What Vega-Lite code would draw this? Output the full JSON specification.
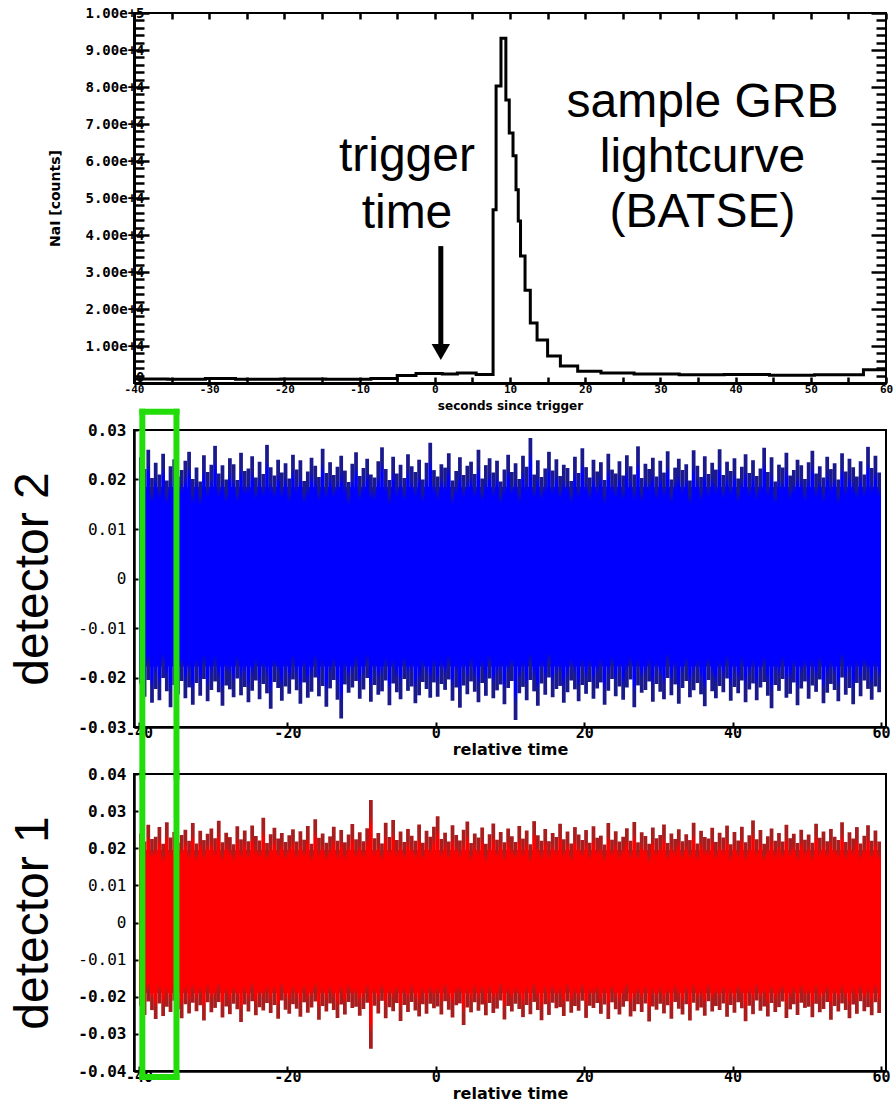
{
  "$schema": "https://vega.github.io/schema/vega-lite/v6.json",
  "padding": {"left": 8, "top": 5, "right": 0, "bottom": 0},
  "background": "white",
  "spacing": 47,
  "bounds": "flush",
  "config": {"view": {"stroke": "black", "strokeWidth": 2}, "font": "Liberation Sans"},
  "datasets": {
    "curve": [{"t":-40,"c":1100},{"t":-35.5,"c":1000},{"t":-30.5,"c":1200},{"t":-26.5,"c":1000},{"t":-20.5,"c":1100},{"t":-14.5,"c":1000},{"t":-8.5,"c":1200},{"t":-5,"c":2000},{"t":-2.5,"c":2600},{"t":1,"c":2400},{"t":3,"c":2700},{"t":5.5,"c":2300},{"t":7.75,"c":46800},{"t":8.15,"c":80300},{"t":8.8,"c":93200},{"t":9.45,"c":76500},{"t":9.9,"c":67600},{"t":10.4,"c":61400},{"t":10.8,"c":52200},{"t":11.1,"c":43800},{"t":11.4,"c":34300},{"t":12,"c":25100},{"t":12.7,"c":16200},{"t":13.6,"c":11600},{"t":15,"c":7300},{"t":16.7,"c":4600},{"t":19,"c":3200},{"t":22.1,"c":2700},{"t":26.5,"c":2400},{"t":32.5,"c":2200},{"t":38.5,"c":2300},{"t":44.5,"c":2100},{"t":50.5,"c":2200},{"t":57,"c":3600},{"t":60,"c":3600}],
    "notes": [{"t":-3.7,"c":61000,"txt":"trigger"},{"t":-3.7,"c":45700,"txt":"time"},{"t":35.6,"c":75700,"txt":"sample GRB"},{"t":35.6,"c":60800,"txt":"lightcurve"},{"t":35.6,"c":45900,"txt":"(BATSE)"}],
    "arrow": [{"t":0.8,"c1":37000,"c2":9500}],
    "head": [{"t":0.8,"c":8400}],
    "d2": [
{"t":-39.75,"h":0.0245,"l":-0.0212},{"t":-39.25,"h":0.0221,"l":-0.0239},{"t":-38.75,"h":0.026,"l":-0.0205},{"t":-38.25,"h":0.0203,"l":-0.0251},{"t":-37.75,"h":0.0234,"l":-0.0223},{"t":-37.25,"h":0.021,"l":-0.0246},{"t":-36.75,"h":0.0252,"l":-0.0201},{"t":-36.25,"h":0.0198,"l":-0.0228},{"t":-35.75,"h":0.0227,"l":-0.026},{"t":-35.25,"h":0.0241,"l":-0.0215},{"t":-34.75,"h":0.0206,"l":-0.0234},{"t":-34.25,"h":0.0219,"l":-0.0207},{"t":-33.75,"h":0.0238,"l":-0.0242},{"t":-33.25,"h":0.0256,"l":-0.022},{"t":-32.75,"h":0.0201,"l":-0.0255},{"t":-32.25,"h":0.0224,"l":-0.0211},{"t":-31.75,"h":0.0196,"l":-0.0237},{"t":-31.25,"h":0.0249,"l":-0.0203},{"t":-30.75,"h":0.0215,"l":-0.0248},{"t":-30.25,"h":0.023,"l":-0.0225},
{"t":-29.75,"h":0.0268,"l":-0.0208},{"t":-29.25,"h":0.0212,"l":-0.023},{"t":-28.75,"h":0.0229,"l":-0.0257},{"t":-28.25,"h":0.02,"l":-0.0216},{"t":-27.75,"h":0.0243,"l":-0.0224},{"t":-27.25,"h":0.0231,"l":-0.024},{"t":-26.75,"h":0.0199,"l":-0.0202},{"t":-26.25,"h":0.0254,"l":-0.0236},{"t":-25.75,"h":0.0217,"l":-0.0219},{"t":-25.25,"h":0.0222,"l":-0.025},{"t":-24.75,"h":0.0247,"l":-0.0227},{"t":-24.25,"h":0.0204,"l":-0.0206},{"t":-23.75,"h":0.0236,"l":-0.0244},{"t":-23.25,"h":0.0211,"l":-0.0213},{"t":-22.75,"h":0.027,"l":-0.0232},{"t":-22.25,"h":0.0225,"l":-0.0263},{"t":-21.75,"h":0.0208,"l":-0.0209},{"t":-21.25,"h":0.024,"l":-0.0221},{"t":-20.75,"h":0.0214,"l":-0.0247},{"t":-20.25,"h":0.0233,"l":-0.0218},
{"t":-19.75,"h":0.0202,"l":-0.0233},{"t":-19.25,"h":0.025,"l":-0.0204},{"t":-18.75,"h":0.022,"l":-0.0226},{"t":-18.25,"h":0.0239,"l":-0.0253},{"t":-17.75,"h":0.0197,"l":-0.021},{"t":-17.25,"h":0.0216,"l":-0.0241},{"t":-16.75,"h":0.0244,"l":-0.0229},{"t":-16.25,"h":0.0228,"l":-0.02},{"t":-15.75,"h":0.0205,"l":-0.0238},{"t":-15.25,"h":0.0262,"l":-0.0217},{"t":-14.75,"h":0.0213,"l":-0.0259},{"t":-14.25,"h":0.0235,"l":-0.0222},{"t":-13.75,"h":0.0209,"l":-0.0205},{"t":-13.25,"h":0.0226,"l":-0.0245},{"t":-12.75,"h":0.0248,"l":-0.0283},{"t":-12.25,"h":0.0218,"l":-0.0214},{"t":-11.75,"h":0.0195,"l":-0.0231},{"t":-11.25,"h":0.0232,"l":-0.022},{"t":-10.75,"h":0.0255,"l":-0.0207},{"t":-10.25,"h":0.0207,"l":-0.0243},
{"t":-9.75,"h":0.0223,"l":-0.0224},{"t":-9.25,"h":0.0242,"l":-0.0201},{"t":-8.75,"h":0.021,"l":-0.0249},{"t":-8.25,"h":0.0204,"l":-0.0215},{"t":-7.75,"h":0.0237,"l":-0.0235},{"t":-7.25,"h":0.0265,"l":-0.0228},{"t":-6.75,"h":0.0221,"l":-0.0206},{"t":-6.25,"h":0.0199,"l":-0.0256},{"t":-5.75,"h":0.0246,"l":-0.0212},{"t":-5.25,"h":0.0212,"l":-0.023},{"t":-4.75,"h":0.023,"l":-0.0244},{"t":-4.25,"h":0.0203,"l":-0.0203},{"t":-3.75,"h":0.0251,"l":-0.0227},{"t":-3.25,"h":0.0227,"l":-0.0218},{"t":-2.75,"h":0.0215,"l":-0.0252},{"t":-2.25,"h":0.024,"l":-0.0236},{"t":-1.75,"h":0.02,"l":-0.0209},{"t":-1.25,"h":0.0234,"l":-0.0223},{"t":-0.75,"h":0.0274,"l":-0.0241},{"t":-0.25,"h":0.0219,"l":-0.021},
{"t":0.25,"h":0.0206,"l":-0.0239},{"t":0.75,"h":0.0231,"l":-0.0213},{"t":1.25,"h":0.0224,"l":-0.0225},{"t":1.75,"h":0.0253,"l":-0.0204},{"t":2.25,"h":0.0198,"l":-0.0247},{"t":2.75,"h":0.0217,"l":-0.022},{"t":3.25,"h":0.0245,"l":-0.0261},{"t":3.75,"h":0.0209,"l":-0.0216},{"t":4.25,"h":0.0228,"l":-0.0234},{"t":4.75,"h":0.0236,"l":-0.0208},{"t":5.25,"h":0.0211,"l":-0.0229},{"t":5.75,"h":0.026,"l":-0.025},{"t":6.25,"h":0.0202,"l":-0.0211},{"t":6.75,"h":0.0229,"l":-0.0237},{"t":7.25,"h":0.0243,"l":-0.0202},{"t":7.75,"h":0.0214,"l":-0.0242},{"t":8.25,"h":0.0238,"l":-0.0226},{"t":8.75,"h":0.0196,"l":-0.0214},{"t":9.25,"h":0.022,"l":-0.0254},{"t":9.75,"h":0.025,"l":-0.0221},
{"t":10.25,"h":0.0215,"l":-0.0207},{"t":10.75,"h":0.0233,"l":-0.0286},{"t":11.25,"h":0.0201,"l":-0.0232},{"t":11.75,"h":0.0248,"l":-0.0219},{"t":12.25,"h":0.0226,"l":-0.0246},{"t":12.75,"h":0.0284,"l":-0.0205},{"t":13.25,"h":0.021,"l":-0.0228},{"t":13.75,"h":0.0239,"l":-0.0257},{"t":14.25,"h":0.0205,"l":-0.0212},{"t":14.75,"h":0.0222,"l":-0.0235},{"t":15.25,"h":0.0256,"l":-0.02},{"t":15.75,"h":0.0218,"l":-0.024},{"t":16.25,"h":0.0241,"l":-0.0223},{"t":16.75,"h":0.0207,"l":-0.0217},{"t":17.25,"h":0.023,"l":-0.0251},{"t":17.75,"h":0.0223,"l":-0.023},{"t":18.25,"h":0.0197,"l":-0.0206},{"t":18.75,"h":0.0246,"l":-0.0224},{"t":19.25,"h":0.0213,"l":-0.0248},{"t":19.75,"h":0.0263,"l":-0.0215},
{"t":20.25,"h":0.0225,"l":-0.0233},{"t":20.75,"h":0.0204,"l":-0.0209},{"t":21.25,"h":0.024,"l":-0.0243},{"t":21.75,"h":0.0216,"l":-0.0222},{"t":22.25,"h":0.0235,"l":-0.021},{"t":22.75,"h":0.0199,"l":-0.0255},{"t":23.25,"h":0.0252,"l":-0.0227},{"t":23.75,"h":0.022,"l":-0.0203},{"t":24.25,"h":0.0212,"l":-0.0238},{"t":24.75,"h":0.0237,"l":-0.0218},{"t":25.25,"h":0.0208,"l":-0.0245},{"t":25.75,"h":0.0249,"l":-0.022},{"t":26.25,"h":0.0227,"l":-0.0204},{"t":26.75,"h":0.021,"l":-0.026},{"t":27.25,"h":0.0267,"l":-0.0216},{"t":27.75,"h":0.0203,"l":-0.0231},{"t":28.25,"h":0.0232,"l":-0.0225},{"t":28.75,"h":0.0221,"l":-0.0208},{"t":29.25,"h":0.0244,"l":-0.0249},{"t":29.75,"h":0.0206,"l":-0.0213},
{"t":30.25,"h":0.0238,"l":-0.0229},{"t":30.75,"h":0.0214,"l":-0.0244},{"t":31.25,"h":0.0257,"l":-0.0201},{"t":31.75,"h":0.02,"l":-0.0236},{"t":32.25,"h":0.0224,"l":-0.0214},{"t":32.75,"h":0.0242,"l":-0.0253},{"t":33.25,"h":0.0219,"l":-0.0221},{"t":33.75,"h":0.0231,"l":-0.0207},{"t":34.25,"h":0.0198,"l":-0.024},{"t":34.75,"h":0.0259,"l":-0.0226},{"t":35.25,"h":0.0228,"l":-0.0211},{"t":35.75,"h":0.0205,"l":-0.0234},{"t":36.25,"h":0.0247,"l":-0.0258},{"t":36.75,"h":0.0211,"l":-0.0205},{"t":37.25,"h":0.0234,"l":-0.0228},{"t":37.75,"h":0.022,"l":-0.0242},{"t":38.25,"h":0.0261,"l":-0.0217},{"t":38.75,"h":0.0209,"l":-0.023},{"t":39.25,"h":0.0236,"l":-0.0202},{"t":39.75,"h":0.0217,"l":-0.0247},
{"t":40.25,"h":0.0243,"l":-0.0219},{"t":40.75,"h":0.0202,"l":-0.0232},{"t":41.25,"h":0.0226,"l":-0.0206},{"t":41.75,"h":0.0251,"l":-0.025},{"t":42.25,"h":0.0213,"l":-0.0224},{"t":42.75,"h":0.0239,"l":-0.0212},{"t":43.25,"h":0.0207,"l":-0.0246},{"t":43.75,"h":0.0222,"l":-0.022},{"t":44.25,"h":0.0264,"l":-0.0209},{"t":44.75,"h":0.0215,"l":-0.0237},{"t":45.25,"h":0.0245,"l":-0.0262},{"t":45.75,"h":0.0196,"l":-0.0215},{"t":46.25,"h":0.023,"l":-0.0227},{"t":46.75,"h":0.0224,"l":-0.0203},{"t":47.25,"h":0.0254,"l":-0.0241},{"t":47.75,"h":0.0208,"l":-0.0233},{"t":48.25,"h":0.0219,"l":-0.021},{"t":48.75,"h":0.024,"l":-0.0256},{"t":49.25,"h":0.0229,"l":-0.0222},{"t":49.75,"h":0.0201,"l":-0.0208},
{"t":50.25,"h":0.0235,"l":-0.0243},{"t":50.75,"h":0.0258,"l":-0.0216},{"t":51.25,"h":0.0212,"l":-0.0229},{"t":51.75,"h":0.0227,"l":-0.0204},{"t":52.25,"h":0.0204,"l":-0.0252},{"t":52.75,"h":0.0246,"l":-0.0231},{"t":53.25,"h":0.0221,"l":-0.0213},{"t":53.75,"h":0.0233,"l":-0.0225},{"t":54.25,"h":0.02,"l":-0.0248},{"t":54.75,"h":0.0253,"l":-0.02},{"t":55.25,"h":0.0216,"l":-0.0235},{"t":55.75,"h":0.0242,"l":-0.0221},{"t":56.25,"h":0.0225,"l":-0.0254},{"t":56.75,"h":0.0206,"l":-0.0211},{"t":57.25,"h":0.0237,"l":-0.0238},{"t":57.75,"h":0.021,"l":-0.0206},{"t":58.25,"h":0.0266,"l":-0.0223},{"t":58.75,"h":0.0223,"l":-0.0245},{"t":59.25,"h":0.0248,"l":-0.0218},{"t":59.75,"h":0.0214,"l":-0.023}
    ],
    "d1": [
{"t":-39.75,"h":0.024,"l":-0.0224},{"t":-39.25,"h":0.0218,"l":-0.0249},{"t":-38.75,"h":0.0263,"l":-0.0213},{"t":-38.25,"h":0.0225,"l":-0.0236},{"t":-37.75,"h":0.0231,"l":-0.026},{"t":-37.25,"h":0.0257,"l":-0.0218},{"t":-36.75,"h":0.0212,"l":-0.0252},{"t":-36.25,"h":0.027,"l":-0.0227},{"t":-35.75,"h":0.0229,"l":-0.0241},{"t":-35.25,"h":0.0244,"l":-0.0211},{"t":-34.75,"h":0.0215,"l":-0.0233},{"t":-34.25,"h":0.0236,"l":-0.0258},{"t":-33.75,"h":0.025,"l":-0.022},{"t":-33.25,"h":0.022,"l":-0.0245},{"t":-32.75,"h":0.0268,"l":-0.0216},{"t":-32.25,"h":0.0213,"l":-0.0239},{"t":-31.75,"h":0.0247,"l":-0.0223},{"t":-31.25,"h":0.0222,"l":-0.0264},{"t":-30.75,"h":0.0239,"l":-0.0215},{"t":-30.25,"h":0.0253,"l":-0.0242},
{"t":-29.75,"h":0.0227,"l":-0.023},{"t":-29.25,"h":0.0274,"l":-0.0214},{"t":-28.75,"h":0.0216,"l":-0.0256},{"t":-28.25,"h":0.0242,"l":-0.0226},{"t":-27.75,"h":0.023,"l":-0.0247},{"t":-27.25,"h":0.0211,"l":-0.0219},{"t":-26.75,"h":0.0259,"l":-0.0234},{"t":-26.25,"h":0.0224,"l":-0.0268},{"t":-25.75,"h":0.0248,"l":-0.0221},{"t":-25.25,"h":0.0219,"l":-0.024},{"t":-24.75,"h":0.0261,"l":-0.0212},{"t":-24.25,"h":0.0233,"l":-0.025},{"t":-23.75,"h":0.0221,"l":-0.0228},{"t":-23.25,"h":0.0282,"l":-0.0237},{"t":-22.75,"h":0.0214,"l":-0.0217},{"t":-22.25,"h":0.0238,"l":-0.0244},{"t":-21.75,"h":0.0255,"l":-0.0222},{"t":-21.25,"h":0.0226,"l":-0.0259},{"t":-20.75,"h":0.0241,"l":-0.021},{"t":-20.25,"h":0.0217,"l":-0.0235},
{"t":-19.75,"h":0.0235,"l":-0.0246},{"t":-19.25,"h":0.0251,"l":-0.022},{"t":-18.75,"h":0.0218,"l":-0.0232},{"t":-18.25,"h":0.0246,"l":-0.0254},{"t":-17.75,"h":0.0223,"l":-0.0215},{"t":-17.25,"h":0.026,"l":-0.0243},{"t":-16.75,"h":0.0212,"l":-0.0229},{"t":-16.25,"h":0.0278,"l":-0.0213},{"t":-15.75,"h":0.0228,"l":-0.0262},{"t":-15.25,"h":0.024,"l":-0.0225},{"t":-14.75,"h":0.0215,"l":-0.024},{"t":-14.25,"h":0.0232,"l":-0.0218},{"t":-13.75,"h":0.0258,"l":-0.0236},{"t":-13.25,"h":0.022,"l":-0.0257},{"t":-12.75,"h":0.0249,"l":-0.0221},{"t":-12.25,"h":0.0216,"l":-0.0248},{"t":-11.75,"h":0.0237,"l":-0.0214},{"t":-11.25,"h":0.0265,"l":-0.023},{"t":-10.75,"h":0.0224,"l":-0.0227},{"t":-10.25,"h":0.0243,"l":-0.0251},
{"t":-9.75,"h":0.0219,"l":-0.0233},{"t":-9.25,"h":0.0254,"l":-0.0216},{"t":-8.75,"h":0.033,"l":-0.034},{"t":-8.25,"h":0.0227,"l":-0.0224},{"t":-7.75,"h":0.0241,"l":-0.0245},{"t":-7.25,"h":0.0213,"l":-0.0211},{"t":-6.75,"h":0.0269,"l":-0.0258},{"t":-6.25,"h":0.023,"l":-0.0228},{"t":-5.75,"h":0.0276,"l":-0.0239},{"t":-5.25,"h":0.0222,"l":-0.0217},{"t":-4.75,"h":0.0245,"l":-0.0265},{"t":-4.25,"h":0.0217,"l":-0.0222},{"t":-3.75,"h":0.0252,"l":-0.0241},{"t":-3.25,"h":0.0234,"l":-0.0214},{"t":-2.75,"h":0.022,"l":-0.0237},{"t":-2.25,"h":0.0264,"l":-0.0253},{"t":-1.75,"h":0.0215,"l":-0.022},{"t":-1.25,"h":0.0247,"l":-0.0246},{"t":-0.75,"h":0.0231,"l":-0.0219},{"t":-0.25,"h":0.0258,"l":-0.0231},
{"t":0.25,"h":0.0286,"l":-0.0226},{"t":0.75,"h":0.0225,"l":-0.0248},{"t":1.25,"h":0.0242,"l":-0.0212},{"t":1.75,"h":0.0218,"l":-0.0235},{"t":2.25,"h":0.0262,"l":-0.0256},{"t":2.75,"h":0.0236,"l":-0.0223},{"t":3.25,"h":0.0221,"l":-0.0218},{"t":3.75,"h":0.025,"l":-0.0276},{"t":4.25,"h":0.0272,"l":-0.0229},{"t":4.75,"h":0.0214,"l":-0.0242},{"t":5.25,"h":0.024,"l":-0.0215},{"t":5.75,"h":0.0229,"l":-0.0238},{"t":6.25,"h":0.0256,"l":-0.0221},{"t":6.75,"h":0.0212,"l":-0.025},{"t":7.25,"h":0.0238,"l":-0.0217},{"t":7.75,"h":0.0267,"l":-0.0244},{"t":8.25,"h":0.0223,"l":-0.0232},{"t":8.75,"h":0.0244,"l":-0.021},{"t":9.25,"h":0.0216,"l":-0.0261},{"t":9.75,"h":0.0253,"l":-0.0225},
{"t":10.25,"h":0.0232,"l":-0.024},{"t":10.75,"h":0.0217,"l":-0.0219},{"t":11.25,"h":0.026,"l":-0.0233},{"t":11.75,"h":0.0226,"l":-0.0255},{"t":12.25,"h":0.0248,"l":-0.0222},{"t":12.75,"h":0.0211,"l":-0.0247},{"t":13.25,"h":0.0273,"l":-0.0214},{"t":13.75,"h":0.0235,"l":-0.0236},{"t":14.25,"h":0.022,"l":-0.0263},{"t":14.75,"h":0.0252,"l":-0.022},{"t":15.25,"h":0.0219,"l":-0.0249},{"t":15.75,"h":0.0241,"l":-0.0216},{"t":16.25,"h":0.023,"l":-0.0231},{"t":16.75,"h":0.0266,"l":-0.0228},{"t":17.25,"h":0.0224,"l":-0.0252},{"t":17.75,"h":0.0245,"l":-0.0213},{"t":18.25,"h":0.0213,"l":-0.0243},{"t":18.75,"h":0.0257,"l":-0.0225},{"t":19.25,"h":0.0237,"l":-0.0238},{"t":19.75,"h":0.0222,"l":-0.0211},
{"t":20.25,"h":0.0249,"l":-0.0257},{"t":20.75,"h":0.0215,"l":-0.0224},{"t":21.25,"h":0.0259,"l":-0.023},{"t":21.75,"h":0.0228,"l":-0.0217},{"t":22.25,"h":0.0234,"l":-0.0246},{"t":22.75,"h":0.021,"l":-0.0221},{"t":23.25,"h":0.0268,"l":-0.026},{"t":23.75,"h":0.0223,"l":-0.0215},{"t":24.25,"h":0.0246,"l":-0.0234},{"t":24.75,"h":0.0218,"l":-0.0248},{"t":25.25,"h":0.0231,"l":-0.0227},{"t":25.75,"h":0.0254,"l":-0.0212},{"t":26.25,"h":0.022,"l":-0.0253},{"t":26.75,"h":0.0271,"l":-0.0239},{"t":27.25,"h":0.0216,"l":-0.022},{"t":27.75,"h":0.0243,"l":-0.0241},{"t":28.25,"h":0.0233,"l":-0.0218},{"t":28.75,"h":0.0212,"l":-0.0267},{"t":29.25,"h":0.0256,"l":-0.0226},{"t":29.75,"h":0.0227,"l":-0.0235},
{"t":30.25,"h":0.0236,"l":-0.0219},{"t":30.75,"h":0.0264,"l":-0.0245},{"t":31.25,"h":0.0214,"l":-0.0223},{"t":31.75,"h":0.024,"l":-0.0259},{"t":32.25,"h":0.0225,"l":-0.0214},{"t":32.75,"h":0.0251,"l":-0.0232},{"t":33.25,"h":0.0219,"l":-0.0248},{"t":33.75,"h":0.0238,"l":-0.022},{"t":34.25,"h":0.0222,"l":-0.0264},{"t":34.75,"h":0.0269,"l":-0.0216},{"t":35.25,"h":0.0213,"l":-0.0237},{"t":35.75,"h":0.0247,"l":-0.0229},{"t":36.25,"h":0.023,"l":-0.0251},{"t":36.75,"h":0.0226,"l":-0.0212},{"t":37.25,"h":0.0255,"l":-0.024},{"t":37.75,"h":0.0217,"l":-0.0225},{"t":38.25,"h":0.0242,"l":-0.0236},{"t":38.75,"h":0.0229,"l":-0.0218},{"t":39.25,"h":0.0261,"l":-0.0254},{"t":39.75,"h":0.0211,"l":-0.0222},
{"t":40.25,"h":0.0244,"l":-0.0243},{"t":40.75,"h":0.0221,"l":-0.0215},{"t":41.25,"h":0.0258,"l":-0.0231},{"t":41.75,"h":0.0216,"l":-0.0266},{"t":42.25,"h":0.0235,"l":-0.0224},{"t":42.75,"h":0.0275,"l":-0.0247},{"t":43.25,"h":0.0224,"l":-0.021},{"t":43.75,"h":0.0249,"l":-0.0238},{"t":44.25,"h":0.0212,"l":-0.0226},{"t":44.75,"h":0.0232,"l":-0.0253},{"t":45.25,"h":0.0253,"l":-0.0217},{"t":45.75,"h":0.022,"l":-0.0241},{"t":46.25,"h":0.0241,"l":-0.0228},{"t":46.75,"h":0.0218,"l":-0.0213},{"t":47.25,"h":0.0263,"l":-0.0257},{"t":47.75,"h":0.0227,"l":-0.0234},{"t":48.25,"h":0.0239,"l":-0.022},{"t":48.75,"h":0.0214,"l":-0.0249},{"t":49.25,"h":0.025,"l":-0.0216},{"t":49.75,"h":0.0223,"l":-0.023},
{"t":50.25,"h":0.0237,"l":-0.0227},{"t":50.75,"h":0.0215,"l":-0.0255},{"t":51.25,"h":0.0266,"l":-0.0219},{"t":51.75,"h":0.0228,"l":-0.0242},{"t":52.25,"h":0.0245,"l":-0.0233},{"t":52.75,"h":0.0219,"l":-0.0214},{"t":53.25,"h":0.0252,"l":-0.0262},{"t":53.75,"h":0.0231,"l":-0.0225},{"t":54.25,"h":0.0222,"l":-0.024},{"t":54.75,"h":0.027,"l":-0.0218},{"t":55.25,"h":0.0217,"l":-0.0236},{"t":55.75,"h":0.0243,"l":-0.0258},{"t":56.25,"h":0.0226,"l":-0.0221},{"t":56.75,"h":0.0257,"l":-0.0246},{"t":57.25,"h":0.0213,"l":-0.0212},{"t":57.75,"h":0.0234,"l":-0.0239},{"t":58.25,"h":0.0262,"l":-0.0228},{"t":58.75,"h":0.022,"l":-0.025},{"t":59.25,"h":0.0248,"l":-0.0215},{"t":59.75,"h":0.0218,"l":-0.0244}
    ],
    "core2": [{"t":-40,"t2":60,"l":-0.0178,"h":0.0185}],
    "core1": [{"t":-40,"t2":60,"l":-0.019,"h":0.0195}],
    "gv2": [{"t":-39.55,"l":-0.04,"h":0.0337},{"t":-34.95,"l":-0.04,"h":0.0337}],
    "gh2": [{"t":-39.55,"t2":-34.95,"l":0.0337,"h":0.0337}],
    "gv1": [{"t":-39.55,"l":-0.0416,"h":0.0403},{"t":-34.95,"l":-0.0416,"h":0.0403}],
    "gh1": [{"t":-39.55,"t2":-34.95,"l":-0.0416,"h":-0.0416}]
  },
  "vconcat": [
    {
      "width": 752, "height": 370,
      "layer": [
        {
          "data": {"name": "curve"},
          "mark": {"type": "line", "interpolate": "step-after", "color": "black", "strokeWidth": 3},
          "encoding": {
            "x": {"field": "t", "type": "quantitative", "scale": {"domain": [-40, 60], "nice": false},
              "axis": {"orient": "bottom", "values": [-40,-35,-30,-25,-20,-15,-10,-5,0,5,10,15,20,25,30,35,40,45,50,55,60],
                "labelExpr": "datum.value % 10 == 0 ? (datum.value < 0 ? '-' + abs(datum.value) : '' + datum.value) : ''",
                "labelOverlap": false, "labelFlush": false, "grid": false,
                "tickSize": -6, "tickWidth": 2.5, "tickColor": "black", "domainColor": "black", "domainWidth": 3,
                "labelFont": "DejaVu Sans Mono", "labelFontWeight": "bold", "labelFontSize": 11, "labelColor": "black", "labelPadding": 6,
                "title": "seconds since trigger", "titleFont": "DejaVu Sans", "titleFontWeight": "bold", "titleFontSize": 12, "titleColor": "black", "titlePadding": 6}},
            "y": {"field": "c", "type": "quantitative", "scale": {"domain": [0, 100000], "nice": false},
              "axis": {"orient": "left", "values": [0,2000,4000,6000,8000,10000,12000,14000,16000,18000,20000,22000,24000,26000,28000,30000,32000,34000,36000,38000,40000,42000,44000,46000,48000,50000,52000,54000,56000,58000,60000,62000,64000,66000,68000,70000,72000,74000,76000,78000,80000,82000,84000,86000,88000,90000,92000,94000,96000,98000,100000],
                "labelExpr": "datum.value % 10000 == 0 ? (datum.value == 0 ? '0' : format(datum.value, '.2e')) : ''",
                "labelOverlap": false, "labelFlush": false, "grid": false,
                "labelOffset": {"condition": {"test": "datum.value == 0", "value": -6}, "value": 0},
                "tickSize": {"condition": {"test": "datum.value % 10000 == 0", "value": -15}, "value": -10},
                "tickWidth": 2.5, "tickColor": "black", "domainColor": "black", "domainWidth": 3,
                "labelFont": "DejaVu Sans Mono", "labelFontWeight": "bold", "labelFontSize": 14, "labelColor": "black", "labelPadding": 5,
                "title": "NaI [counts]", "titleFont": "DejaVu Sans", "titleFontWeight": "bold", "titleFontSize": 14, "titleColor": "black", "titlePadding": 22}}
          }
        },
        {
          "data": {"name": "curve"},
          "mark": {"type": "line", "strokeOpacity": 0},
          "encoding": {
            "x": {"field": "t", "type": "quantitative",
              "axis": {"orient": "top", "values": [-40,-35,-30,-25,-20,-15,-10,-5,0,5,10,15,20,25,30,35,40,45,50,55,60], "labels": false, "title": null, "grid": false, "domain": false, "tickSize": -6, "tickWidth": 2.5, "tickColor": "black"}},
            "y": {"field": "c", "type": "quantitative",
              "axis": {"orient": "right", "values": [0,2000,4000,6000,8000,10000,12000,14000,16000,18000,20000,22000,24000,26000,28000,30000,32000,34000,36000,38000,40000,42000,44000,46000,48000,50000,52000,54000,56000,58000,60000,62000,64000,66000,68000,70000,72000,74000,76000,78000,80000,82000,84000,86000,88000,90000,92000,94000,96000,98000,100000], "labels": false, "title": null, "grid": false, "domain": false,
                "tickSize": {"condition": {"test": "datum.value % 10000 == 0", "value": -15}, "value": -10}, "tickWidth": 2.5, "tickColor": "black"}}
          }
        },
        {
          "data": {"name": "arrow"},
          "mark": {"type": "rule", "color": "black", "strokeWidth": 5},
          "encoding": {"x": {"field": "t", "type": "quantitative", "axis": null}, "y": {"field": "c1", "type": "quantitative", "axis": null}, "y2": {"field": "c2"}}
        },
        {
          "data": {"name": "head"},
          "mark": {"type": "point", "shape": "triangle-down", "filled": true, "color": "black", "size": 340, "opacity": 1},
          "encoding": {"x": {"field": "t", "type": "quantitative", "axis": null}, "y": {"field": "c", "type": "quantitative", "axis": null}}
        },
        {
          "data": {"name": "notes"},
          "mark": {"type": "text", "font": "Liberation Sans", "fontSize": 48, "color": "black", "align": "center", "baseline": "middle"},
          "encoding": {"x": {"field": "t", "type": "quantitative", "axis": null}, "y": {"field": "c", "type": "quantitative", "axis": null}, "text": {"field": "txt"}}
        }
      ],
      "resolve": {"axis": {"x": "independent", "y": "independent"}}
    },
    {
      "width": 752, "height": 297,
      "encoding": {
        "x": {"field": "t", "type": "quantitative", "scale": {"domain": [-40, 60], "nice": false},
          "axis": {"values": [-40,-20,0,20,40,60], "labelExpr": "datum.value < 0 ? '-' + abs(datum.value) : '' + datum.value",
            "labelOverlap": false, "labelFlush": false, "grid": false, "tickSize": -5, "tickWidth": 2, "tickColor": "black", "domainColor": "black", "domainWidth": 2.5,
            "labelFont": "DejaVu Sans Mono", "labelFontWeight": "bold", "labelFontSize": 15, "labelColor": "black", "labelPadding": 3,
            "title": "relative time", "titleFont": "DejaVu Sans", "titleFontWeight": "bold", "titleFontSize": 16, "titleColor": "black", "titlePadding": 1}},
        "y": {"field": "l", "type": "quantitative", "scale": {"domain": [-0.03, 0.03], "nice": false},
          "axis": {"values": [-0.03,-0.02,-0.01,0,0.01,0.02,0.03], "labelExpr": "datum.value == 0 ? '0' : (datum.value < 0 ? '-' : '') + format(abs(datum.value), '.2f')",
            "labelOverlap": false, "labelFlush": false, "grid": false, "tickSize": -4, "tickWidth": 2, "tickColor": "black", "domainColor": "black", "domainWidth": 2.5,
            "labelFont": "DejaVu Sans Mono", "labelFontSize": 16, "labelFontWeight": {"condition": {"test": "abs(datum.value) > 0.015", "value": "bold"}, "value": "normal"}, "labelColor": "black", "labelPadding": 12,
            "title": "detector 2", "titleFont": "Liberation Sans", "titleFontSize": 48, "titleFontWeight": "normal", "titleColor": "black", "titlePadding": 20}},
        "y2": {"field": "h"}
      },
      "layer": [
        {"data": {"name": "core2"}, "mark": {"type": "rect", "color": "#0000ff"}, "encoding": {"x2": {"field": "t2"}}},
        {"data": {"name": "d2"}, "mark": {"type": "bar", "width": 3.76, "fill": {"gradient": "linear", "x1": 0, "y1": 0, "x2": 0, "y2": 1, "stops": [{"offset": 0, "color": "#1a1a8c"}, {"offset": 0.06, "color": "#1a1a8c"}, {"offset": 0.11, "color": "#0000ff"}, {"offset": 0.89, "color": "#0000ff"}, {"offset": 0.94, "color": "#1a1a8c"}, {"offset": 1, "color": "#1a1a8c"}]}}},
        {"data": {"name": "gv2"}, "mark": {"type": "rule", "color": "#22dd0a", "strokeWidth": 6, "strokeCap": "square"}},
        {"data": {"name": "gh2"}, "mark": {"type": "rule", "color": "#22dd0a", "strokeWidth": 6, "strokeCap": "square"}, "encoding": {"x2": {"field": "t2"}}}
      ]
    },
    {
      "width": 752, "height": 297,
      "encoding": {
        "x": {"field": "t", "type": "quantitative", "scale": {"domain": [-40, 60], "nice": false},
          "axis": {"values": [-40,-20,0,20,40,60], "labelExpr": "datum.value < 0 ? '-' + abs(datum.value) : '' + datum.value",
            "labelOverlap": false, "labelFlush": false, "grid": false, "tickSize": -5, "tickWidth": 2, "tickColor": "black", "domainColor": "black", "domainWidth": 2.5,
            "labelFont": "DejaVu Sans Mono", "labelFontWeight": "bold", "labelFontSize": 15, "labelColor": "black", "labelPadding": 3,
            "title": "relative time", "titleFont": "DejaVu Sans", "titleFontWeight": "bold", "titleFontSize": 16, "titleColor": "black", "titlePadding": 1}},
        "y": {"field": "l", "type": "quantitative", "scale": {"domain": [-0.04, 0.04], "nice": false},
          "axis": {"values": [-0.04,-0.03,-0.02,-0.01,0,0.01,0.02,0.03,0.04], "labelExpr": "datum.value == 0 ? '0' : (datum.value < 0 ? '-' : '') + format(abs(datum.value), '.2f')",
            "labelOverlap": false, "labelFlush": false, "grid": false, "tickSize": -4, "tickWidth": 2, "tickColor": "black", "domainColor": "black", "domainWidth": 2.5,
            "labelFont": "DejaVu Sans Mono", "labelFontSize": 16, "labelFontWeight": {"condition": {"test": "abs(datum.value) > 0.015", "value": "bold"}, "value": "normal"}, "labelColor": "black", "labelPadding": 12,
            "title": "detector 1", "titleFont": "Liberation Sans", "titleFontSize": 48, "titleFontWeight": "normal", "titleColor": "black", "titlePadding": 20}},
        "y2": {"field": "h"}
      },
      "layer": [
        {"data": {"name": "core1"}, "mark": {"type": "rect", "color": "#ff0000"}, "encoding": {"x2": {"field": "t2"}}},
        {"data": {"name": "d1"}, "mark": {"type": "bar", "width": 3.76, "fill": {"gradient": "linear", "x1": 0, "y1": 0, "x2": 0, "y2": 1, "stops": [{"offset": 0, "color": "#a81e1e"}, {"offset": 0.06, "color": "#a81e1e"}, {"offset": 0.11, "color": "#ff0000"}, {"offset": 0.89, "color": "#ff0000"}, {"offset": 0.94, "color": "#a81e1e"}, {"offset": 1, "color": "#a81e1e"}]}}},
        {"data": {"name": "gv1"}, "mark": {"type": "rule", "color": "#22dd0a", "strokeWidth": 6, "strokeCap": "square"}},
        {"data": {"name": "gh1"}, "mark": {"type": "rule", "color": "#22dd0a", "strokeWidth": 6, "strokeCap": "square"}, "encoding": {"x2": {"field": "t2"}}}
      ]
    }
  ]
}
